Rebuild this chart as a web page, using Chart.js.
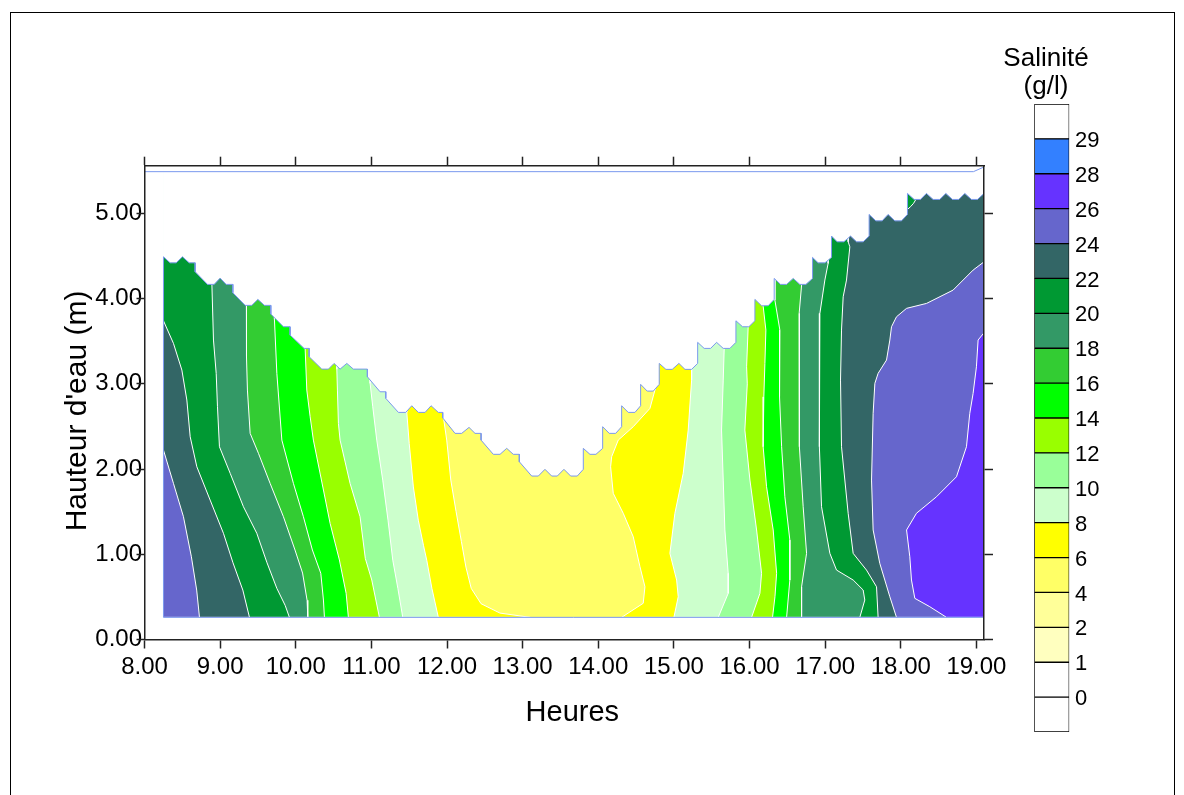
<!DOCTYPE html>
<html><head><meta charset="utf-8">
<script src="https://cdn.jsdelivr.net/npm/chart.js@4/dist/chart.umd.min.js"></script>
<style>
html,body{margin:0;padding:0;background:#fff;}
#wrap{position:relative;width:1184px;height:795px;overflow:hidden;background:#fff;}
#frame{position:absolute;left:10px;top:12px;width:1165px;height:800px;border:1.5px solid #000;box-sizing:border-box;}
#main{position:absolute;left:0;top:0;}
#bar{position:absolute;left:985px;top:30px;}
</style></head>
<body><div id="wrap"><div id="frame"></div>
<canvas id="main" width="1184" height="795"></canvas>
<canvas id="bar" width="122" height="732"></canvas></div>
<script>
// ---------- data ----------
const xTicks = [8, 9, 10, 11, 12, 13, 14, 15, 16, 17, 18, 19];
const yTicks = [0, 1, 2, 3, 4, 5];
const XL = 8.251, XR = 19.1, YB = 0.26, YT = 5.7;

// water surface (top of the sampled section)
const surfX = [8.251,8.339,8.419,8.502,8.591,8.670,8.670,8.833,8.921,9.000,9.080,9.168,9.168,9.331,9.419,9.499,9.586,9.670,9.670,9.837,9.925,9.925,10.110,10.177,10.177,10.344,10.432,10.507,10.586,10.675,10.762,10.947,10.947,11.115,11.190,11.190,11.357,11.454,11.534,11.621,11.710,11.789,11.885,11.943,11.943,12.106,12.194,12.291,12.370,12.450,12.450,12.612,12.701,12.789,12.876,12.956,12.956,13.120,13.207,13.295,13.384,13.458,13.546,13.635,13.722,13.802,13.802,13.890,13.969,14.058,14.058,14.145,14.230,14.309,14.309,14.396,14.485,14.560,14.560,14.647,14.727,14.806,14.806,14.894,14.978,15.066,15.146,15.234,15.314,15.314,15.400,15.485,15.564,15.652,15.740,15.820,15.820,15.908,15.991,16.071,16.071,16.159,16.246,16.326,16.326,16.410,16.490,16.577,16.665,16.745,16.833,16.833,16.907,16.996,17.084,17.084,17.158,17.247,17.335,17.415,17.502,17.581,17.581,17.670,17.753,17.832,17.921,18.009,18.088,18.088,18.176,18.260,18.339,18.427,18.515,18.595,18.683,18.766,18.846,18.934,19.014,19.100];
const surfY = [4.491,4.420,4.420,4.491,4.420,4.420,4.315,4.167,4.167,4.241,4.167,4.167,4.069,3.921,3.921,3.991,3.921,3.921,3.819,3.670,3.670,3.572,3.416,3.416,3.318,3.173,3.173,3.240,3.173,3.240,3.173,3.173,3.083,2.907,2.907,2.830,2.665,2.665,2.743,2.665,2.665,2.743,2.665,2.665,2.600,2.419,2.419,2.489,2.419,2.419,2.340,2.173,2.173,2.243,2.173,2.173,2.086,1.918,1.918,1.997,1.918,1.918,1.997,1.918,1.918,1.997,2.243,2.173,2.173,2.243,2.497,2.419,2.419,2.497,2.743,2.665,2.665,2.743,2.994,2.915,2.915,2.994,3.240,3.170,3.170,3.240,3.170,3.170,3.240,3.487,3.416,3.416,3.487,3.416,3.416,3.487,3.740,3.670,3.670,3.740,3.991,3.916,3.916,3.991,4.237,4.167,4.167,4.237,4.167,4.167,4.237,4.484,4.420,4.420,4.484,4.734,4.667,4.667,4.734,4.667,4.667,4.734,4.988,4.913,4.913,4.988,4.913,4.913,4.988,5.235,5.164,5.164,5.235,5.164,5.164,5.235,5.164,5.164,5.235,5.164,5.164,5.235];

// isohalines (x = hour, y = height), from the surface / edge down to the bed
const iso6L  = [[11.943,5.7],[11.943,2.665],[11.996,2.34],[12.05,1.87],[12.12,1.50],[12.19,1.15],[12.25,0.85],[12.32,0.60],[12.45,0.42],[12.70,0.31],[13.10,0.26]];
const iso8L  = [[11.468,5.7],[11.468,2.665],[11.50,2.30],[11.555,1.79],[11.62,1.40],[11.69,1.10],[11.732,0.93],[11.80,0.60],[11.885,0.26]];
const iso10L = [[10.983,5.7],[10.983,3.006],[11.018,2.731],[11.071,2.34],[11.15,1.87],[11.22,1.40],[11.283,0.93],[11.35,0.60],[11.415,0.26]];
const iso12L = [[10.543,5.7],[10.543,3.17],[10.551,2.927],[10.564,2.536],[10.586,2.34],[10.718,1.832],[10.85,1.441],[10.92,0.95],[11.005,0.698],[11.106,0.26]];
const iso14L = [[10.124,5.7],[10.124,3.416],[10.146,2.927],[10.19,2.614],[10.233,2.34],[10.366,1.754],[10.454,1.363],[10.577,0.933],[10.666,0.542],[10.696,0.26]];
const iso16L = [[9.718,5.7],[9.718,3.757],[9.75,3.123],[9.816,2.34],[9.969,1.832],[10.101,1.441],[10.22,1.05],[10.331,0.777],[10.366,0.463],[10.379,0.26]];
const iso18L = [[9.344,5.7],[9.344,3.916],[9.353,3.318],[9.361,2.927],[9.397,2.419],[9.507,2.184],[9.661,1.832],[9.837,1.441],[9.99,1.05],[10.09,0.78],[10.15,0.46],[10.159,0.26]];
const iso20L = [[8.891,5.7],[8.891,4.167],[8.912,3.514],[8.948,3.123],[8.965,2.731],[8.991,2.262],[9.133,1.95],[9.308,1.558],[9.485,1.246],[9.62,0.90],[9.75,0.60],[9.86,0.40],[9.916,0.26]];
const iso22L = [[8.251,3.74],[8.383,3.475],[8.494,3.162],[8.56,2.81],[8.604,2.379],[8.692,2.027],[8.868,1.636],[9.044,1.246],[9.17,0.90],[9.30,0.58],[9.388,0.26]];
const iso24L = [[8.251,2.223],[8.383,1.832],[8.515,1.441],[8.62,0.97],[8.69,0.58],[8.727,0.26]];

const iso6R  = [[14.75,5.7],[14.75,2.93],[14.683,2.712],[14.462,2.497],[14.264,2.34],[14.177,2.145],[14.163,2.027],[14.198,1.715],[14.33,1.481],[14.462,1.206],[14.551,0.854],[14.617,0.619],[14.594,0.425],[14.309,0.26]];
const iso8R  = [[15.234,5.7],[15.234,3.17],[15.234,3.044],[15.189,2.458],[15.123,1.95],[15.013,1.481],[14.947,1.011],[15.036,0.698],[15.057,0.502],[15.0,0.26]];
const iso10R = [[15.665,5.7],[15.665,3.416],[15.652,3.044],[15.63,2.458],[15.652,1.871],[15.674,1.285],[15.718,0.777],[15.718,0.542],[15.586,0.26]];
const iso12R = [[15.982,5.7],[15.982,3.67],[15.961,3.2],[15.97,3.0],[15.938,2.458],[16.005,1.871],[16.093,1.285],[16.159,0.777],[16.137,0.542],[16.027,0.26]];
const iso14R = [[16.18,5.7],[16.18,3.912],[16.216,3.631],[16.203,3.24],[16.189,2.848],[16.18,2.262],[16.225,1.793],[16.313,1.285],[16.358,0.777],[16.336,0.502],[16.304,0.26]];
const iso16R = [[16.335,5.7],[16.335,3.983],[16.401,3.631],[16.401,3.24],[16.392,2.848],[16.424,2.262],[16.467,1.675],[16.533,1.167],[16.533,0.698],[16.49,0.26]];
const iso18R = [[16.688,5.7],[16.688,4.159],[16.656,3.827],[16.656,3.435],[16.656,2.848],[16.665,2.262],[16.709,1.558],[16.754,1.011],[16.688,0.619],[16.688,0.26]];
const iso20R = [[17.039,5.7],[17.039,4.413],[16.996,4.218],[16.93,3.827],[16.92,3.435],[16.92,2.848],[16.93,2.262],[16.952,1.558],[17.062,1.011],[17.15,0.815],[17.37,0.698],[17.502,0.581],[17.524,0.463],[17.458,0.26]];
const iso22R = [[17.304,5.7],[17.304,4.667],[17.326,4.608],[17.282,4.218],[17.238,4.022],[17.216,3.631],[17.203,3.044],[17.216,2.262],[17.304,1.481],[17.37,1.011],[17.546,0.815],[17.679,0.619],[17.70,0.26]];
const iso24R = [[19.1,4.432],[18.956,4.335],[18.691,4.10],[18.34,3.944],[18.076,3.886],[17.943,3.787],[17.877,3.67],[17.855,3.514],[17.811,3.279],[17.70,3.123],[17.657,3.006],[17.634,2.654],[17.613,1.871],[17.634,1.285],[17.722,0.894],[17.855,0.502],[17.943,0.26]];
const iso26R = [[19.1,3.60],[19.022,3.514],[19.0,3.2],[18.956,2.888],[18.912,2.654],[18.868,2.262],[18.736,1.91],[18.472,1.675],[18.207,1.481],[18.076,1.285],[18.119,0.971],[18.141,0.698],[18.185,0.483],[18.383,0.385],[18.604,0.26]];
const pocket22 = [[18.088,5.4],[18.088,5.047],[18.13,5.08],[18.17,5.12],[18.20,5.165],[18.25,5.4]];

const levels = [6, 8, 10, 12, 14, 16, 18, 20, 22, 24, 26];
const leftIsos  = [iso6L, iso8L, iso10L, iso12L, iso14L, iso16L, iso18L, iso20L, iso22L, iso24L, null];
const rightIsos = [iso6R, iso8R, iso10R, iso12R, iso14R, iso16R, iso18R, iso20R, iso22R, iso24R, iso26R];

// colour bar
const legendLabels = ['0','1','2','4','6','8','10','12','14','16','18','20','22','24','26','28','29'];
// ---------- styles ----------
const baseColor = '#FFFF66';
const levelColors = ['#FFFF00','#CCFFCC','#99FF99','#99FF00','#00FF00','#33CC33','#339966','#009933','#336666','#6666CC','#6633FF'];
const barColors = ['#FFFFFF','#FFFFFF','#FFFFBF','#FFFF99','#FFFF66','#FFFF00','#CCFFCC','#99FF99','#99FF00','#00FF00','#33CC33','#339966','#009933','#336666','#6666CC','#6633FF','#3380FF','#FFFFFF'];
const FONT = "'Liberation Sans', Arial, sans-serif";
const EDGE = '#7a98ee';

const pts = a => a.map(([x, y]) => ({x, y}));
const poly = (data, color, border) => ({
  data: pts(data), showLine: true, fill: 'shape', backgroundColor: color,
  borderColor: border || 'rgba(0,0,0,0)', borderWidth: border ? 1 : 0,
  pointRadius: 0, tension: 0, borderJoinStyle: 'round'
});

const ds = [];
ds.push(poly([[XL,YB],[XL,YT],[XR,YT],[XR,YB]], baseColor));
levels.forEach((lv, i) => {
  const L = leftIsos[i], R = rightIsos[i];
  if (L) ds.push(poly([...L, [XL,YB], [XL,L[0][1]]], levelColors[i], '#ffffff'));
  if (R) ds.push(poly([...R, [XR,YB], [XR,R[0][1]]], levelColors[i], '#ffffff'));
});
ds.push(poly(pocket22, levelColors[7], '#ffffff'));
const surface = surfX.map((x, i) => [x, surfY[i]]);
ds.push(poly([...surface, [XR,YT], [XL,YT]], '#ffffff'));
ds.push({data: pts([[XL,YB], ...surface, [XR,YB], [XL,YB]]), showLine: true, fill: false,
  borderColor: EDGE, borderWidth: 1, pointRadius: 0, tension: 0});
ds.push({data: pts([[8,5.49],[18.96,5.49],[19.1,5.545]]), showLine: true, fill: false,
  borderColor: EDGE, borderWidth: 1, pointRadius: 0, tension: 0});
ds.forEach((d, i) => { d.order = ds.length - i; });

const axisCommon = (pos) => ({
  type: 'linear',
  grid: {display: true, drawOnChartArea: false, drawTicks: true, tickLength: 9, tickWidth: 1.5, tickColor: '#222', z: 1},
  border: {display: true, color: '#222', width: 1.5, z: 1},
  position: pos
});

new Chart(document.getElementById('main'), {
  type: 'scatter',
  data: {datasets: ds},
  options: {
    responsive: false, animation: false, devicePixelRatio: 1,
    layout: {padding: 0},
    plugins: {legend: {display: false}, tooltip: {enabled: false}},
    scales: {
      x: Object.assign(axisCommon('bottom'), {
        min: 8, max: 19.1,
        afterBuildTicks: s => { s.ticks = xTicks.map(v => ({value: v})); },
        afterFit: s => { s.height = 795 - 639.5; },
        ticks: {color: '#000', font: {family: FONT, size: 24}, padding: 4.5, maxRotation: 0, autoSkip: false,
          callback: v => Number(v).toFixed(2)},
        title: {display: true, text: '  Heures', color: '#000', font: {family: FONT, size: 29}, padding: {top: 0, bottom: 64.5}}
      }),
      x2: Object.assign(axisCommon('top'), {
        min: 8, max: 19.1,
        afterBuildTicks: s => { s.ticks = xTicks.map(v => ({value: v})); },
        afterFit: s => { s.height = 165.7; },
        ticks: {display: false}
      }),
      y: Object.assign(axisCommon('left'), {
        min: 0, max: 5.56,
        afterBuildTicks: s => { s.ticks = yTicks.map(v => ({value: v})); },
        afterFit: s => { s.width = 144.5; },
        grid: {display: true, drawOnChartArea: false, drawTicks: true, tickLength: 8, tickWidth: 1.5, tickColor: '#222', z: 1},
        ticks: {color: '#000', font: {family: FONT, size: 24}, padding: -5.5, autoSkip: false,
          callback: v => Number(v).toFixed(2)},
        title: {display: true, text: "Hauteur d'eau (m)  ", color: '#000', font: {family: FONT, size: 30}, padding: {top: 60, bottom: 0}}
      }),
      y2: Object.assign(axisCommon('right'), {
        min: 0, max: 5.56,
        afterBuildTicks: s => { s.ticks = yTicks.map(v => ({value: v})); },
        afterFit: s => { s.width = 1184 - 984; },
        ticks: {display: false}
      })
    }
  }
});

new Chart(document.getElementById('bar'), {
  type: 'bar',
  data: {labels: [''], datasets: barColors.map(c => ({
    data: [1], backgroundColor: c, borderColor: '#000', borderWidth: 1, borderSkipped: false,
    barPercentage: 1, categoryPercentage: 1, stack: 's', yAxisID: 'y', xAxisID: 'x'}))},
  options: {
    responsive: false, animation: false, devicePixelRatio: 1,
    layout: {padding: {left: 0, right: 0, top: 0, bottom: 30}},
    plugins: {legend: {display: false}, tooltip: {enabled: false},
      title: {display: true, text: ['Salinité', '(g/l)'], color: '#000',
        font: {family: FONT, size: 26, weight: 'normal', lineHeight: 1.1}, padding: {top: 14.3, bottom: 2.5}}},
    scales: {
      x: {display: false, stacked: true},
      yL: {position: 'left', display: true, min: 0, max: 18,
        ticks: {display: false}, grid: {display: false, drawTicks: false}, border: {display: false},
        afterFit: s => { s.width = 49.3; }},
      y: {stacked: true, position: 'right', min: 0, max: 18,
        afterBuildTicks: s => { s.ticks = legendLabels.map((l, i) => ({value: i + 1})); },
        afterFit: s => { s.width = 122 - 49.3 - 35; },
        grid: {display: false, drawTicks: false}, border: {display: false},
        ticks: {color: '#000', font: {family: FONT, size: 22}, padding: 5.7, labelOffset: 2, autoSkip: false,
          callback: v => legendLabels[v - 1]}}
    }
  }
});
</script></body></html>
